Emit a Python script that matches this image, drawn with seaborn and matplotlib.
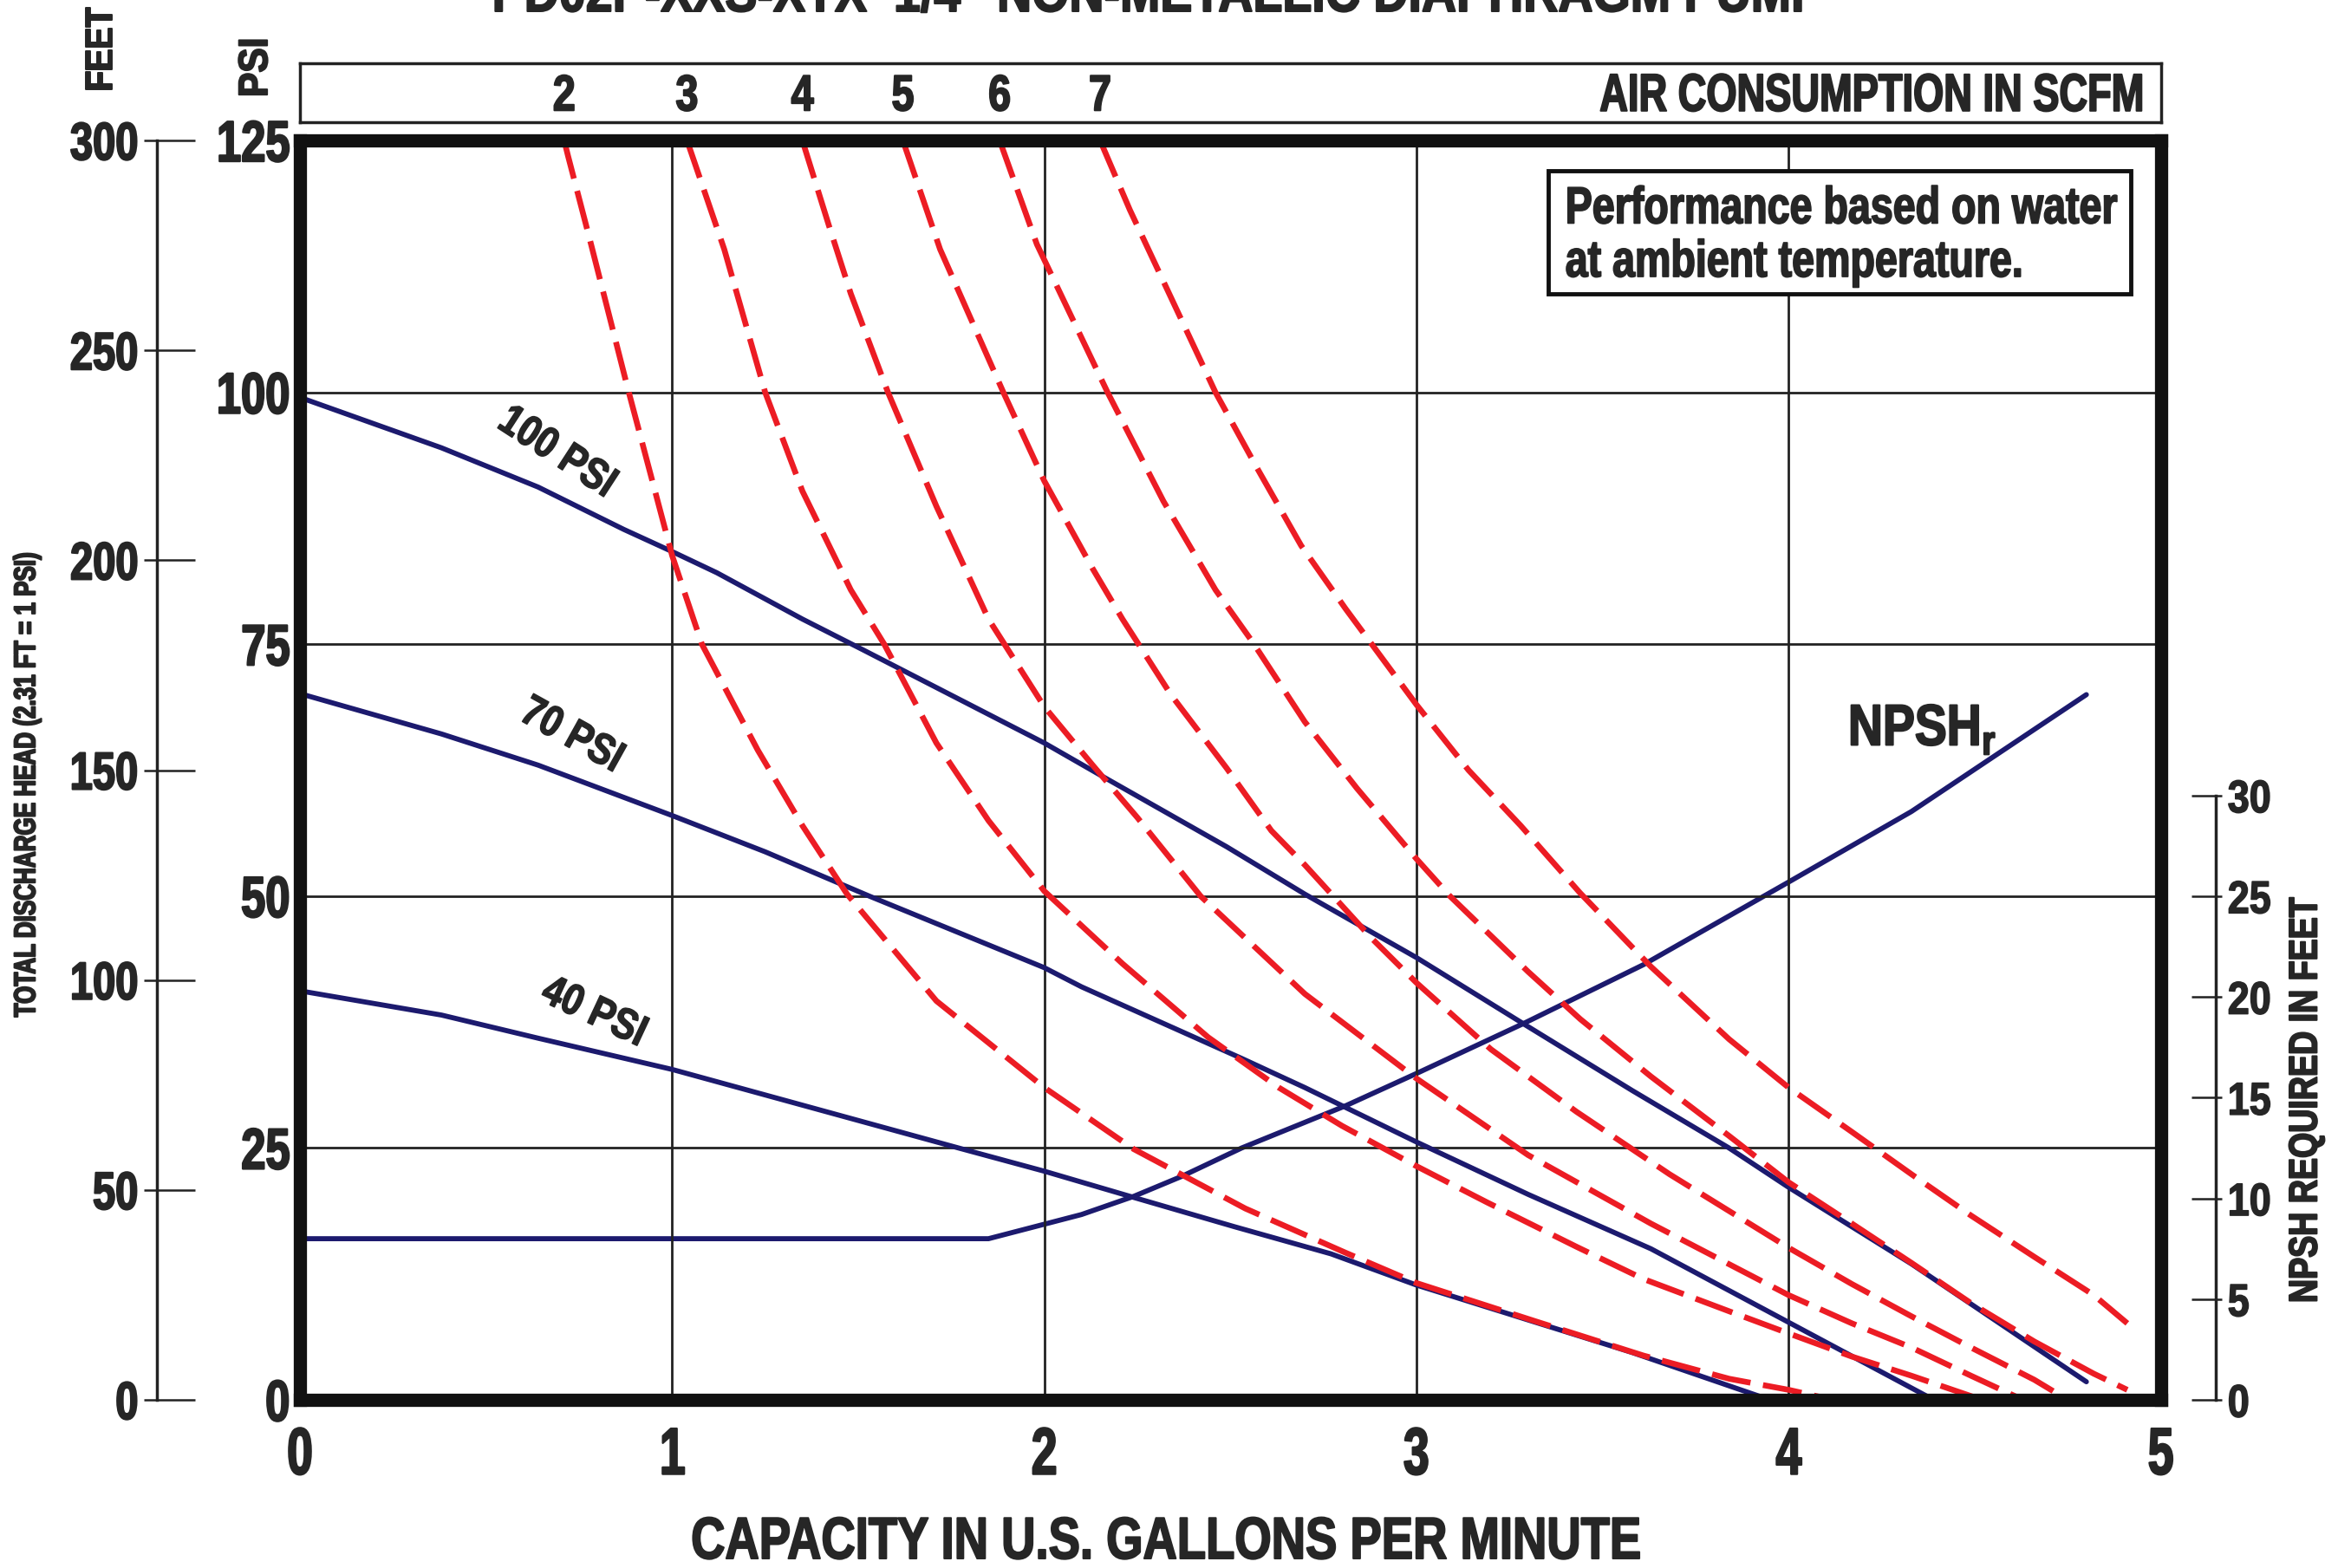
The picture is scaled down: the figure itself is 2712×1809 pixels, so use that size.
import matplotlib
matplotlib.use("Agg")
import matplotlib.pyplot as plt
import seaborn as sns
from matplotlib.patches import Rectangle
from matplotlib.patheffects import AbstractPathEffect
from matplotlib.transforms import Affine2D

# capacity (US GPM) vs discharge pressure (PSI)
psi100_gpm = [0, 0.38, 0.64, 0.87, 1.0, 1.12, 1.35, 1.51, 2.0, 2.17, 2.49, 2.70, 3.0, 3.28, 3.58, 3.84, 4.0, 4.33, 4.80]
psi100_psi = [99.5, 94.5, 90.6, 86.4, 84.2, 82.1, 77.5, 74.5, 65.2, 61.6, 54.9, 50.2, 43.9, 37.5, 30.7, 25.0, 21.1, 13.5, 1.8]

psi70_gpm = [0, 0.38, 0.64, 1.0, 1.25, 1.53, 2.0, 2.10, 2.53, 2.70, 3.0, 3.30, 3.63, 4.0, 4.39]
psi70_psi = [70.1, 66.1, 63.0, 58.0, 54.4, 50.0, 42.9, 41.0, 33.9, 31.0, 25.6, 20.4, 15.0, 7.7, 0.0]

psi40_gpm = [0, 0.38, 0.64, 1.0, 1.77, 2.0, 2.24, 2.51, 2.77, 3.0, 3.58, 3.95]
psi40_psi = [40.6, 38.2, 35.9, 32.8, 25.0, 22.7, 20.1, 17.2, 14.5, 11.4, 4.7, 0.0]

# NPSH required (feet)
npsh_gpm = [0, 1.85, 2.10, 2.24, 2.37, 2.53, 2.81, 3.0, 3.29, 3.61, 4.0, 4.33, 4.80]
npsh_ft = [8.0, 8.0, 9.2, 10.1, 11.1, 12.5, 14.6, 16.2, 18.7, 21.6, 25.7, 29.2, 35.0]

# air consumption lines (SCFM)
scfm2_gpm = [0.71, 0.72, 0.78, 0.88, 1.0, 1.08, 1.23, 1.35, 1.47, 1.71, 2.0, 2.24, 2.54, 2.81, 3.0, 3.32, 3.61, 3.84, 4.0, 4.12]
scfm2_psi = [125, 123.5, 115.0, 100.5, 83.8, 75.0, 64.5, 57.0, 50.2, 39.6, 31.0, 24.9, 19.0, 14.6, 11.6, 7.8, 4.4, 2.1, 1.0, 0.0]

scfm3_gpm = [1.04, 1.14, 1.25, 1.35, 1.48, 1.57, 1.71, 1.85, 2.0, 2.21, 2.44, 2.63, 2.80, 3.0, 3.19, 3.43, 3.61, 3.84, 4.0, 4.17, 4.33, 4.52]
scfm3_psi = [125, 114.2, 100.0, 90.2, 80.4, 75.0, 65.2, 57.5, 50.5, 43.3, 36.0, 31.0, 27.2, 23.2, 19.6, 15.2, 12.0, 8.8, 6.6, 4.3, 2.4, 0.0]

scfm4_gpm = [1.35, 1.42, 1.48, 1.58, 1.71, 1.85, 2.0, 2.13, 2.25, 2.42, 2.70, 3.0, 3.30, 3.63, 4.0, 4.17, 4.33, 4.49, 4.63]
scfm4_psi = [125, 116.7, 109.8, 100.0, 88.7, 77.5, 68.8, 63.0, 57.8, 50.0, 40.3, 31.9, 24.3, 17.5, 10.4, 7.6, 5.2, 2.4, 0.0]

scfm5_gpm = [1.62, 1.72, 1.89, 2.0, 2.13, 2.21, 2.34, 2.49, 2.61, 2.70, 2.88, 3.0, 3.20, 3.43, 3.68, 4.0, 4.17, 4.33, 4.49, 4.66, 4.75]
scfm5_psi = [125, 114.2, 100.0, 91.2, 82.5, 77.5, 70.0, 62.7, 56.5, 53.1, 45.8, 41.4, 34.8, 28.6, 22.4, 15.1, 11.5, 8.3, 5.2, 2.0, 0.0]

scfm6_gpm = [1.88, 1.98, 2.17, 2.32, 2.46, 2.56, 2.70, 2.84, 3.0, 3.09, 3.30, 3.44, 3.63, 3.84, 4.0, 4.17, 4.33, 4.49, 4.66, 4.82, 4.91]
scfm6_psi = [125, 114.7, 100.0, 89.2, 80.4, 75.2, 67.3, 60.7, 53.7, 50.0, 42.5, 37.8, 32.1, 26.2, 21.6, 17.5, 13.6, 9.6, 5.8, 2.6, 1.0]

scfm7_gpm = [2.15, 2.23, 2.46, 2.57, 2.69, 2.81, 2.88, 3.0, 3.14, 3.28, 3.44, 3.63, 3.84, 4.0, 4.17, 4.33, 4.49, 4.66, 4.82, 4.91]
scfm7_psi = [125, 118.1, 100.0, 92.6, 84.8, 78.5, 75.0, 69.0, 62.5, 57.0, 50.3, 43.0, 35.8, 31.0, 26.6, 22.4, 18.3, 14.2, 10.4, 7.6]

scfm_labels = ["2", "3", "4", "5", "6", "7"]

gpm_ticks = [0, 1, 2, 3, 4, 5]
psi_ticks = [0, 25, 50, 75, 100, 125]
feet_ticks = [0, 50, 100, 150, 200, 250, 300]
npsh_ticks = [0, 5, 10, 15, 20, 25, 30]

FT_PER_PSI = 300 / 125      # left feet scale, as printed
NPSH_PER_PSI = 30 / 60      # right NPSH scale: 30 ft sits at 60 psi

BLUE = "#1c1a6e"
RED = "#ec1c24"
INK = "#111111"
DASH = (0, (6.8, 2.2))


class Narrow(AbstractPathEffect):
    """squeeze glyphs along the text direction and fatten them a little
    (the original uses a heavy condensed face)"""

    def __init__(self, sx=0.8, anchor="center", stroke=1.1):
        super().__init__()
        self.sx = sx
        self.anchor = anchor
        self.stroke = stroke

    def draw_path(self, renderer, gc, tpath, affine, rgbFace=None):
        ext = tpath.get_extents()
        if self.anchor == "left":
            cx = 0.0
        elif self.anchor == "right":
            cx = ext.x1
        else:
            cx = (ext.x0 + ext.x1) / 2
        tr = Affine2D().translate(-cx, 0).scale(self.sx, 1).translate(cx, 0) + affine
        gc0 = renderer.new_gc()
        gc0.copy_properties(gc)
        if self.stroke and rgbFace is not None:
            gc0.set_linewidth(self.stroke)
            gc0.set_foreground(rgbFace, isRGBA=True)
            gc0.set_joinstyle("round")
        renderer.draw_path(gc0, tpath, tr, rgbFace)
        gc0.restore()


def narrow(texts, sx, anchor="center", stroke=1.1):
    for t in texts:
        t.set_path_effects([Narrow(sx, anchor, stroke)])


sns.set_style("white")
plt.rcParams["font.family"] = ["Liberation Sans", "DejaVu Sans"]
plt.rcParams["font.weight"] = "bold"

fig = plt.figure(figsize=(27.12, 18.09), dpi=100)
AX_L, AX_W = 0.1276, 0.7915
ax = fig.add_axes([AX_L, 0.1072, AX_W, 0.8032])
ax.patch.set_visible(False)

# pressure curves
for x, y in [(psi100_gpm, psi100_psi), (psi70_gpm, psi70_psi), (psi40_gpm, psi40_psi)]:
    sns.lineplot(x=x, y=y, ax=ax, color=BLUE, lw=4.2, estimator=None, sort=False, zorder=3)

red_curves = [(scfm2_gpm, scfm2_psi), (scfm3_gpm, scfm3_psi), (scfm4_gpm, scfm4_psi),
              (scfm5_gpm, scfm5_psi), (scfm6_gpm, scfm6_psi), (scfm7_gpm, scfm7_psi)]
for x, y in red_curves:
    sns.lineplot(x=x, y=y, ax=ax, color=RED, lw=4.8, linestyle=DASH, estimator=None,
                 sort=False, zorder=4, dash_capstyle="butt")

ax.set_xlim(0, 5)
ax.set_ylim(0, 125)
ax.set_xticks(gpm_ticks)
ax.set_yticks(psi_ticks)
ax.set_xlabel("")
ax.set_ylabel("")
ax.grid(True, color="#222222", lw=2)
ax.set_axisbelow(True)
ax.tick_params(axis="x", length=0, labelsize=55, pad=22)
ax.tick_params(axis="y", length=0, labelsize=48, pad=8)
for s in ax.spines.values():
    s.set_linewidth(11)
    s.set_color(INK)
    s.set_zorder(6)
narrow(ax.get_xticklabels(), 0.7, stroke=1.6)
narrow(ax.get_yticklabels(), 0.76, "right", stroke=1.6)

labels = [
    ax.text(0.69, 94.0, "100 PSI", rotation=-33, ha="center", va="center",
            rotation_mode="anchor", fontsize=36),
    ax.text(0.73, 65.9, "70 PSI", rotation=-29, ha="center", va="center",
            rotation_mode="anchor", fontsize=36),
    ax.text(0.79, 38.4, "40 PSI", rotation=-25, ha="center", va="center",
            rotation_mode="anchor", fontsize=36),
]
narrow(labels, 0.85)
narrow([ax.text(4.16, 65.0, r"NPSH$_\mathregular{r}$", ha="left", va="baseline", fontsize=48)],
       0.83, "left", stroke=1.5)

ax.add_patch(Rectangle((3.355, 109.8), 1.565, 12.2, fc="white", ec=INK, lw=3.5, zorder=7))
note = [
    ax.text(3.40, 116.8, "Performance based on water", ha="left", va="baseline",
            fontsize=43, zorder=8),
    ax.text(3.40, 111.5, "at ambient temperature.", ha="left", va="baseline",
            fontsize=43, zorder=8),
]
narrow(note, 0.78, "left", stroke=1.3)

# NPSH axis on the right
axn = ax.twinx()
axn.set_zorder(ax.get_zorder() - 1)
sns.lineplot(x=npsh_gpm, y=npsh_ft, ax=axn, color=BLUE, lw=4.2, estimator=None, sort=False)
axn.set_ylim(0, 125 * NPSH_PER_PSI)
axn.set_ylabel("")
for k in ["top", "bottom", "left"]:
    axn.spines[k].set_visible(False)
axn.spines["right"].set_position(("axes", 1.0295))
axn.spines["right"].set_bounds(0, 30)
axn.spines["right"].set_linewidth(2.5)
axn.spines["right"].set_color("#222222")
axn.yaxis.remove_overlapping_locs = False
axn.set_yticks(npsh_ticks)
axn.set_yticks(npsh_ticks, minor=True)
axn.tick_params(axis="y", which="major", direction="out", length=5, width=1.8,
                labelsize=38, pad=5, color="#222222")
axn.tick_params(axis="y", which="minor", direction="in", length=20, width=1.8, color="#222222")
narrow(axn.get_yticklabels(), 0.85, "left")

# feet axis on the far left
axf = ax.secondary_yaxis(-0.077, functions=(lambda p: p * FT_PER_PSI, lambda f: f / FT_PER_PSI))
axf.yaxis.remove_overlapping_locs = False
axf.set_yticks(feet_ticks)
axf.set_yticks(feet_ticks, minor=True)
axf.tick_params(which="major", direction="out", length=11, width=1.8, labelsize=44, pad=4,
                color="#222222")
axf.tick_params(which="minor", direction="in", length=32, width=1.8, color="#222222")
axf.spines["left"].set_linewidth(2.5)
axf.spines["left"].set_color("#222222")
narrow(axf.get_yticklabels(), 0.77, "right", stroke=1.5)

# air consumption strip on top
axt = fig.add_axes([AX_L, 0.9221, AX_W, 0.0376])
axt.set_xlim(0, 5)
axt.set_ylim(0, 1)
axt.set_xticks([])
axt.set_yticks([])
for s in axt.spines.values():
    s.set_linewidth(2.5)
    s.set_color("#222222")
strip = [axt.text(x[0], 0.42, lbl, ha="center", va="center", fontsize=42)
         for lbl, (x, y) in zip(scfm_labels, red_curves)]
narrow(strip, 0.8, stroke=1.4)
narrow([axt.text(4.96, 0.42, "AIR CONSUMPTION IN SCFM", ha="right", va="center", fontsize=44)],
       0.74, "right", stroke=1.4)

outer = [
    (fig.text(0.492, 0.9928, 'PD02P-XXS-XTX  1/4" NON-METALLIC DIAPHRAGM PUMP',
              ha="center", va="baseline", fontsize=46), 0.87),
    (fig.text(0.0435, 0.9685, "FEET", rotation=90, ha="center", va="center", fontsize=32), 0.85),
    (fig.text(0.1092, 0.957, "PSI", rotation=90, ha="center", va="center", fontsize=34), 0.9),
    (fig.text(0.0114, 0.500, "TOTAL DISCHARGE HEAD (2.31 FT = 1 PSI)", rotation=90,
              ha="center", va="center", fontsize=25), 0.75),
    (fig.text(0.981, 0.2985, "NPSH REQUIRED IN FEET", rotation=90, ha="center", va="center",
              fontsize=33), 0.82),
    (fig.text(0.4956, 0.016, "CAPACITY IN U.S. GALLONS PER MINUTE", ha="center", va="center",
              fontsize=49), 0.8),
]
for t, sx in outer:
    narrow([t], sx, stroke=1.4)

fig.savefig("out.png", dpi=100)
